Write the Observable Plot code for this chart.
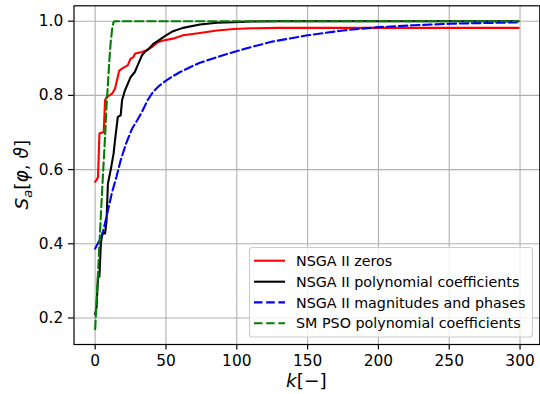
<!DOCTYPE html>
<html>
<head>
<meta charset="utf-8">
<script src="https://cdn.jsdelivr.net/npm/d3@7"></script>
<script src="https://cdn.jsdelivr.net/npm/@observablehq/plot@0.6"></script>
<style>
  html, body { margin: 0; padding: 0; background: white; }
  #chart svg { display: block; }
</style>
</head>
<body>
<div id="chart"></div>
<script>
// ---- data ----
const seriesNames = ["NSGA II zeros", "NSGA II polynomial coefficients", "NSGA II magnitudes and phases", "SM PSO polynomial coefficients"];

const zerosK = [0, 1, 2, 3, 5, 6, 7, 8, 10, 12, 14, 17, 20, 23, 25, 27, 28, 33, 36, 40, 44, 48, 55, 62, 74, 86, 98, 110, 130, 299];
const zerosS = [0.567, 0.572, 0.58, 0.697, 0.70, 0.70, 0.787, 0.795, 0.80, 0.805, 0.818, 0.867, 0.875, 0.881, 0.899, 0.903, 0.912, 0.917, 0.921, 0.930, 0.943, 0.948, 0.953, 0.962, 0.968, 0.975, 0.979, 0.981, 0.982, 0.982];

const polyK = [0, 1, 2, 3, 4, 5, 7, 8, 9, 11, 13, 14, 16, 18, 19, 21, 25, 28, 30, 33, 35, 38, 41, 44, 50, 55, 62, 74, 86, 98, 110, 130, 299];
const polyS = [0.21, 0.23, 0.311, 0.311, 0.40, 0.428, 0.428, 0.46, 0.562, 0.60, 0.643, 0.679, 0.742, 0.746, 0.787, 0.813, 0.849, 0.863, 0.881, 0.908, 0.917, 0.926, 0.939, 0.946, 0.962, 0.973, 0.982, 0.991, 0.996, 0.997, 0.999, 1.0, 1.0];

const magK = [0, 5, 9, 12, 15, 18, 22, 26, 30, 33, 37, 41, 45, 50, 55, 60, 67, 74, 86, 98, 110, 125, 150, 175, 200, 225, 250, 275, 299];
const magS = [0.387, 0.423, 0.49, 0.54, 0.58, 0.625, 0.672, 0.71, 0.735, 0.755, 0.787, 0.81, 0.825, 0.84, 0.852, 0.863, 0.876, 0.888, 0.903, 0.917, 0.930, 0.945, 0.962, 0.975, 0.984, 0.989, 0.993, 0.995, 0.997];

const psoK = [0, 1, 2, 3, 4, 5, 6, 7, 8, 9, 10, 11, 12, 13, 14, 299];
const psoS = [0.17, 0.245, 0.32, 0.40, 0.475, 0.55, 0.62, 0.69, 0.77, 0.83, 0.894, 0.945, 0.98, 0.998, 1.0, 1.0];

const xTicks = [0, 50, 100, 150, 200, 250, 300];
const yTicks = [0.2, 0.4, 0.6, 0.8, 1.0];

// ---- build tables ----
const toRows = (K, S) => K.map((k, i) => ({k, s: S[i]}));
const zeros = toRows(zerosK, zerosS);
const poly = toRows(polyK, polyS);
const mag = toRows(magK, magS);
const pso = toRows(psoK, psoS);

const dash = "8.5,3.7";
const lw = 2.1;
const gridStyle = {stroke: "#b0b0b0", strokeOpacity: 1, strokeWidth: 1.1};

const chart = Plot.plot({
  width: 540,
  height: 394,
  marginLeft: 73.5,
  marginRight: 0.7,
  marginTop: 5.3,
  marginBottom: 50,
  x: {domain: [-14.95, 313.95]},
  y: {domain: [0.1285, 1.0415]},
  style: {fontFamily: "DejaVu Sans", fontSize: "15.4px", color: "black", background: "white"},
  marks: [
    Plot.gridX(xTicks, gridStyle),
    Plot.gridY(yTicks, gridStyle),
    Plot.line(zeros, {x: "k", y: "s", stroke: "red", strokeWidth: lw}),
    Plot.line(poly, {x: "k", y: "s", stroke: "black", strokeWidth: lw}),
    Plot.line(mag, {x: "k", y: "s", stroke: "blue", strokeWidth: lw, strokeDasharray: dash}),
    Plot.line(pso, {x: "k", y: "s", stroke: "green", strokeWidth: lw, strokeDasharray: dash}),
    Plot.frame({stroke: "black", strokeWidth: 1.2}),
    Plot.axisX(xTicks, {tickSize: 5.4, tickPadding: 5.4, strokeWidth: 1.2, fontSize: 15.4, label: null}),
    Plot.axisY(yTicks, {tickSize: 5.4, tickPadding: 5.4, strokeWidth: 1.2, fontSize: 15.4, label: null, tickFormat: d => d.toFixed(1)})
  ]
});
document.getElementById("chart").appendChild(chart);

// ---- axis labels (math-style text) ----
const svg = d3.select(chart);
const font = "DejaVu Sans";

const xl = svg.append("text")
  .attr("x", 306.4).attr("y", 386.5)
  .attr("text-anchor", "middle")
  .attr("font-family", font).attr("font-size", 18.5).attr("fill", "black");
xl.append("tspan").attr("font-style", "italic").text("k");
xl.append("tspan").text("[−]");

const yl = svg.append("text")
  .attr("transform", "translate(28,174.6) rotate(-90)")
  .attr("text-anchor", "middle")
  .attr("font-family", font).attr("font-size", 18.5).attr("fill", "black");
yl.append("tspan").attr("font-style", "italic").text("S");
yl.append("tspan").attr("font-style", "italic").attr("font-size", 13).attr("dy", 4).text("a");
yl.append("tspan").attr("dy", -4).text("[");
yl.append("tspan").attr("font-style", "italic").text("φ");
yl.append("tspan").text(", ");
yl.append("tspan").attr("font-style", "italic").text("ϑ");
yl.append("tspan").text("]");

// ---- legend ----
const legendStyles = [
  {color: "red", dash: null},
  {color: "black", dash: null},
  {color: "blue", dash: dash},
  {color: "green", dash: dash}
];
const lg = svg.append("g").attr("text-anchor", "start");
lg.append("rect")
  .attr("x", 249.5).attr("y", 247.5).attr("width", 283).attr("height", 89.5)
  .attr("rx", 3).attr("ry", 3)
  .style("fill", "white").style("fill-opacity", 0.8)
  .style("stroke", "#cccccc").style("stroke-width", 1.1);
const rowY = [260.7, 281.7, 302.4, 323.3];
seriesNames.forEach((name, i) => {
  const st = legendStyles[i];
  const ln = lg.append("line")
    .attr("x1", 254).attr("x2", 285).attr("y1", rowY[i]).attr("y2", rowY[i])
    .style("stroke", st.color).style("stroke-width", lw);
  if (st.dash) ln.style("stroke-dasharray", dash);
  lg.append("text")
    .attr("x", 296).attr("y", rowY[i]).attr("dy", "0.36em")
    .attr("text-anchor", "start")
    .attr("font-family", font).attr("font-size", 14.3).attr("fill", "black")
    .text(name);
});
</script>
</body>
</html>
